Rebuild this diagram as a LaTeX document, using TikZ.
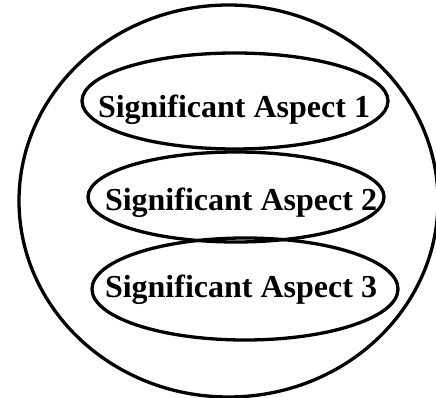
\documentclass[tikz,border=0pt]{standalone}
\usepackage{fontspec}
\setmainfont{Liberation Serif}
\usetikzlibrary{shapes.geometric}

\begin{document}
\begin{tikzpicture}[x=1pt, y=-1pt, line width=3.3pt,
    aspect/.style={draw, ellipse, inner sep=0pt},
    aspecttext/.style={anchor=base, inner sep=0pt, font=\bfseries\fontsize{32}{36}\selectfont}]

    \useasboundingbox (0,0) rectangle (436,398);

    % Ellipse externa
    \node[aspect, minimum width=419pt, minimum height=392pt] (outer) at (228.5,201) {};

    % Aspectos
    \node[aspect, minimum width=306pt, minimum height=96pt] (asp1) at (235,101) {};
    \node[aspect, minimum width=296pt, minimum height=90pt] (asp2) at (236,197) {};
    \node[aspect, minimum width=306pt, minimum height=102pt] (asp3) at (245,289) {};

    % Textos
    \node[aspecttext] (lab1) at (234,117.5) {Significant Aspect 1};
    \node[aspecttext] (lab2) at (241,211) {Significant Aspect 2};
    \node[aspecttext] (lab3) at (241,297) {Significant Aspect 3};

\end{tikzpicture}
\end{document}
